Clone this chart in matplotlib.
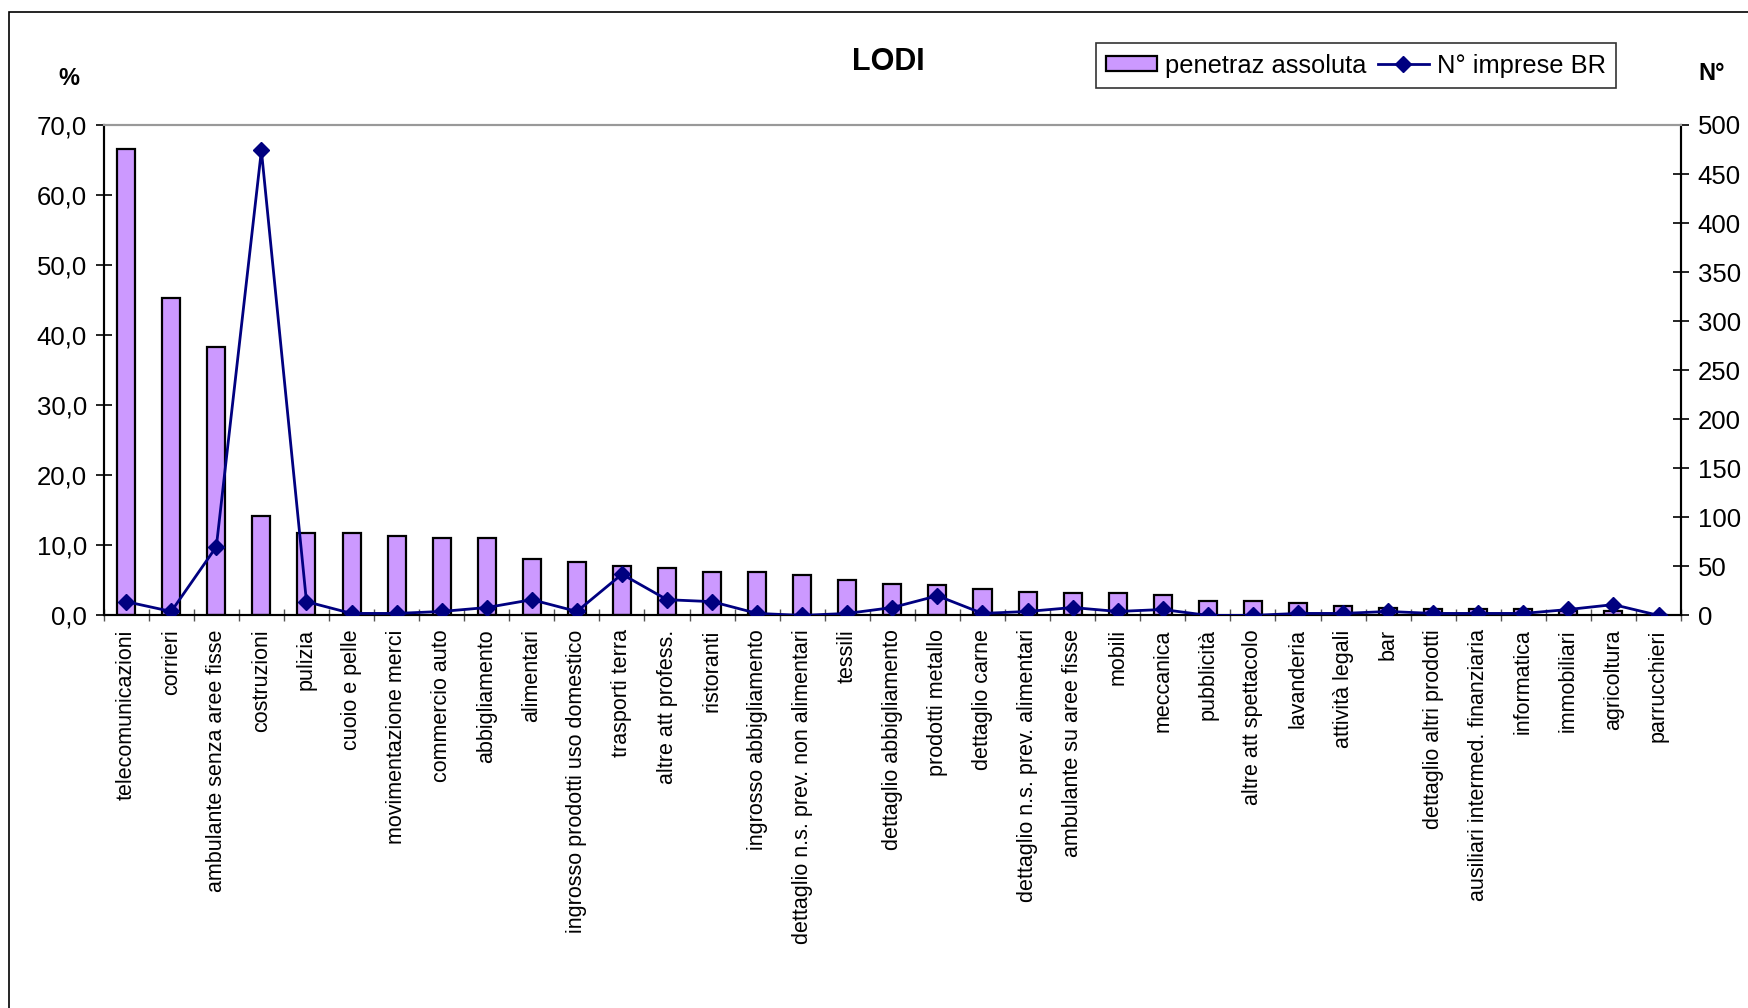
import matplotlib.pyplot as plt
from matplotlib.patches import Rectangle
import numpy as np

plt.rcParams['font.family'] = ['Liberation Sans', 'DejaVu Sans']

# categorie (ordinate per penetrazione decrescente)
categorie = [
    "telecomunicazioni", "corrieri", "ambulante senza aree fisse", "costruzioni",
    "pulizia", "cuoio e pelle", "movimentazione merci", "commercio auto",
    "abbigliamento", "alimentari", "ingrosso prodotti uso domestico",
    "trasporti terra", "altre att profess.", "ristoranti", "ingrosso abbigliamento",
    "dettaglio n.s. prev. non alimentari", "tessili", "dettaglio abbigliamento",
    "prodotti metallo", "dettaglio carne", "dettaglio n.s. prev. alimentari",
    "ambulante su aree fisse", "mobili", "meccanica", "pubblicità",
    "altre att spettacolo", "lavanderia", "attività legali", "bar",
    "dettaglio altri prodotti", "ausiliari intermed. finanziaria", "informatica",
    "immobiliari", "agricoltura", "parrucchieri",
]

# penetraz assoluta (%)
penetrazione = [
    66.6, 45.3, 38.3, 14.2, 11.8, 11.8, 11.4, 11.1, 11.1, 8.1,
    7.6, 7.1, 6.8, 6.2, 6.2, 5.7, 5.1, 4.5, 4.3, 3.7,
    3.4, 3.2, 3.2, 2.9, 2.0, 2.0, 1.7, 1.4, 1.1, 0.85,
    0.85, 0.85, 0.6, 0.6, 0.0,
]

# N° imprese BR
imprese = [
    14, 4, 70, 474, 14, 2, 2, 4, 8, 16,
    4, 42, 16, 14, 2, 0, 2, 8, 20, 2,
    4, 8, 4, 6, 0, 0, 2, 2, 4, 2,
    2, 2, 6, 11, 0,
]

x = np.arange(len(categorie))

fig = plt.figure(figsize=(17.48, 10.08), dpi=100)
ax = fig.add_axes([0.0593, 0.3895, 0.9024, 0.4865])
ax2 = ax.twinx()

# barre
bars = ax.bar(x, penetrazione, width=0.4, color='#CC99FF', edgecolor='black',
              linewidth=1.6, label='penetraz assoluta', zorder=2)

# linea
line, = ax2.plot(x, imprese, color='#000080', linewidth=2, marker='D',
                 markersize=8, label='N° imprese BR', zorder=3)

ax.set_xlim(-0.5, len(categorie) - 0.5)
ax.set_ylim(0, 70)
ax2.set_ylim(0, 500)

ax.set_yticks(np.arange(0, 71, 10))
ax.set_yticklabels([f"{v:.1f}".replace('.', ',') for v in np.arange(0, 71, 10)])
ax2.set_yticks(np.arange(0, 501, 50))

ax.set_xticks(x)
ax.set_xticklabels(categorie, rotation=90, fontsize=15.5, va='top')
ax.set_xticks(np.arange(-0.5, len(categorie), 1), minor=True)
ax.tick_params(axis='x', which='major', length=0, pad=10)
ax.tick_params(axis='x', which='minor', length=8, width=1, color='#555555', direction='inout')
ax.tick_params(axis='y', labelsize=18.5, direction='inout', length=12, width=1.2, pad=6)
ax2.tick_params(axis='y', labelsize=18.5, direction='inout', length=12, width=1.2, pad=6)

# spine
for a in (ax, ax2):
    a.spines['top'].set_color('#999999')
    a.spines['top'].set_linewidth(1.5)
    a.spines['left'].set_linewidth(1.5)
    a.spines['right'].set_linewidth(1.5)
    a.spines['bottom'].set_linewidth(1.5)

# titolo ed etichette degli assi
fig.text(0.508, 0.938, "LODI", fontsize=22, fontweight='bold', ha='center', va='center')
fig.text(0.0395, 0.922, "%", fontsize=17, fontweight='bold', ha='center', va='center')
fig.text(0.979, 0.927, "N°", fontsize=17, fontweight='bold', ha='center', va='center')

# legenda
leg = fig.legend(handles=[bars, line], loc='upper left', bbox_to_anchor=(0.627, 0.957),
                 ncol=2, fontsize=18.4, frameon=True, fancybox=False, edgecolor='black',
                 handlelength=2.0, handleheight=0.5, handletextpad=0.3, columnspacing=0.45,
                 borderpad=0.4, borderaxespad=0)
leg.get_frame().set_linewidth(1.2)

# cornice esterna
fig.patches.append(Rectangle((9 / 1748, -0.01), 1.02, 0.999 - 11 / 1008 + 0.01,
                             transform=fig.transFigure, fill=False,
                             edgecolor='black', linewidth=1.2))

fig.savefig("out.png", dpi=100)
